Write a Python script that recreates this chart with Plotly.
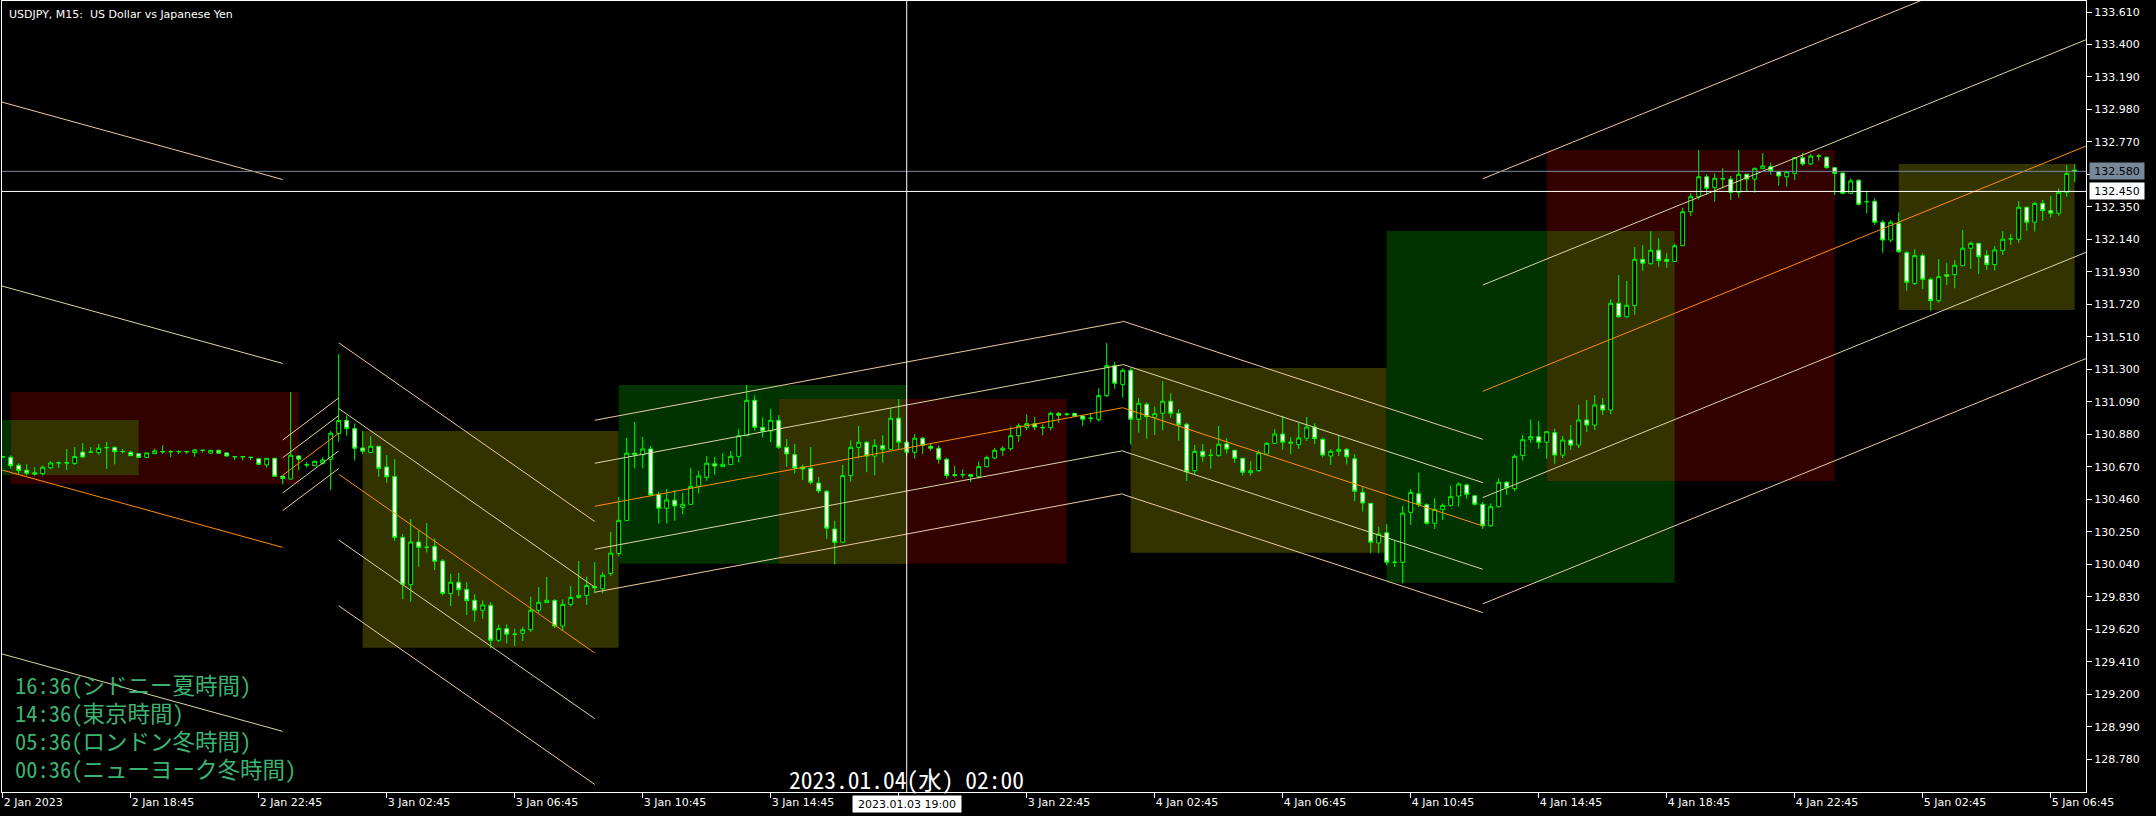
import plotly.graph_objects as go

# ---------------- data (USDJPY M15, bars from 2 Jan 2023 14:45) ----------------
opens = [
    130.735, 130.731, 130.680, 130.648, 130.631, 130.626, 130.664, 130.695, 130.696, 130.692,
    130.765, 130.765, 130.762, 130.792, 130.796, 130.768, 130.764, 130.755, 130.731, 130.755,
    130.769, 130.768, 130.768, 130.768, 130.762, 130.777, 130.758, 130.777, 130.760, 130.735,
    130.735, 130.731, 130.722, 130.682, 130.725, 130.610, 130.591, 130.740, 130.684, 130.677,
    130.693, 130.719, 130.885, 130.971, 130.918, 130.792, 130.762, 130.803, 130.669, 130.607,
    130.214, 129.908, 130.184, 130.150, 130.156, 130.061, 129.850, 129.924, 129.878, 129.807,
    129.743, 129.775, 129.549, 129.624, 129.588, 129.594, 129.617, 129.743, 129.792, 129.806,
    129.641, 129.781, 129.826, 129.839, 129.896, 129.882, 129.980, 130.110, 130.324, 130.758,
    130.749, 130.785, 130.492, 130.402, 130.454, 130.408, 130.428, 130.544, 130.602, 130.690,
    130.671, 130.684, 130.738, 130.871, 131.100, 130.925, 130.902, 130.971, 130.796, 130.749,
    130.669, 130.660, 130.565, 130.512, 130.268, 130.182, 130.613, 130.796, 130.829, 130.740,
    130.807, 130.783, 130.984, 130.829, 130.764, 130.855, 130.803, 130.790, 130.719, 130.619,
    130.619, 130.619, 130.606, 130.671, 130.727, 130.777, 130.787, 130.871, 130.925, 130.949,
    130.925, 130.923, 131.016, 131.010, 131.016, 130.999, 130.984, 130.977, 131.130, 131.324,
    131.203, 131.294, 130.977, 131.074, 130.990, 131.016, 131.094, 131.016, 130.945, 130.645,
    130.770, 130.744, 130.744, 130.818, 130.777, 130.725, 130.632, 130.645, 130.753, 130.822,
    130.882, 130.822, 130.813, 130.855, 130.927, 130.848, 130.740, 130.770, 130.783, 130.722,
    130.505, 130.434, 130.178, 130.244, 130.053, 130.053, 130.376, 130.496, 130.425, 130.305,
    130.395, 130.421, 130.481, 130.553, 130.483, 130.428, 130.289, 130.412, 130.570, 130.529,
    130.744, 130.848, 130.865, 130.829, 130.891, 130.746, 130.843, 130.811, 130.973, 130.940,
    131.070, 131.037, 131.727, 131.640, 131.712, 132.011, 131.983, 132.070, 132.011, 131.998,
    132.099, 132.319, 132.416, 132.545, 132.474, 132.532, 132.529, 132.445, 132.561, 132.530,
    132.597, 132.610, 132.578, 132.545, 132.567, 132.668, 132.628, 132.679, 132.671, 132.604,
    132.569, 132.438, 132.522, 132.384, 132.386, 132.251, 132.136, 132.244, 132.054, 131.856,
    132.035, 131.882, 131.744, 131.912, 131.912, 131.970, 132.083, 132.115, 132.037, 131.977,
    132.067, 132.143, 132.141, 132.348, 132.251, 132.373, 132.326, 132.309, 132.445, 132.588,
]
highs = [
    130.740, 130.745, 130.693, 130.686, 130.669, 130.680, 130.706, 130.704, 130.785, 130.798,
    130.824, 130.798, 130.818, 130.831, 130.803, 130.785, 130.774, 130.760, 130.760, 130.787,
    130.810, 130.779, 130.777, 130.774, 130.785, 130.777, 130.777, 130.779, 130.766, 130.737,
    130.737, 130.733, 130.725, 130.725, 130.729, 130.611, 131.154, 130.746, 130.698, 130.708,
    130.732, 130.902, 131.399, 131.003, 130.950, 130.900, 130.868, 130.803, 130.746, 130.720,
    130.236, 130.333, 130.257, 130.307, 130.206, 130.074, 129.979, 129.984, 129.924, 129.846,
    129.807, 129.794, 129.650, 129.652, 129.624, 129.637, 129.830, 129.893, 129.958, 129.816,
    129.814, 129.898, 130.061, 129.960, 130.053, 129.988, 130.249, 130.474, 130.858, 130.960,
    130.863, 130.805, 130.509, 130.527, 130.520, 130.501, 130.662, 130.643, 130.740, 130.734,
    130.758, 130.773, 130.914, 131.199, 131.132, 130.990, 131.044, 131.003, 130.850, 130.816,
    130.684, 130.798, 130.604, 130.520, 130.322, 130.682, 130.841, 130.934, 130.833, 130.848,
    130.874, 131.048, 131.108, 130.843, 130.882, 130.863, 130.820, 130.807, 130.729, 130.675,
    130.654, 130.624, 130.705, 130.742, 130.793, 130.803, 130.929, 130.951, 131.009, 130.994,
    130.945, 131.026, 131.024, 131.020, 131.018, 130.999, 131.018, 131.178, 131.470, 131.348,
    131.307, 131.307, 131.115, 131.087, 131.059, 131.223, 131.145, 131.042, 130.955, 130.811,
    130.818, 130.785, 130.934, 130.855, 130.777, 130.725, 130.706, 130.779, 130.829, 130.913,
    131.001, 130.861, 130.955, 130.992, 130.951, 130.858, 130.783, 130.876, 130.790, 130.751,
    130.538, 130.434, 130.283, 130.299, 130.193, 130.417, 130.527, 130.632, 130.434, 130.467,
    130.434, 130.548, 130.570, 130.561, 130.483, 130.443, 130.434, 130.596, 130.578, 130.751,
    130.876, 130.977, 130.966, 130.897, 130.916, 130.869, 130.940, 131.070, 131.102, 131.134,
    131.115, 131.753, 131.910, 131.871, 132.091, 132.102, 132.192, 132.147, 132.050, 132.112,
    132.345, 132.438, 132.718, 132.561, 132.567, 132.600, 132.550, 132.718, 132.561, 132.600,
    132.697, 132.636, 132.584, 132.584, 132.675, 132.700, 132.692, 132.692, 132.679, 132.604,
    132.574, 132.535, 132.529, 132.455, 132.406, 132.266, 132.266, 132.315, 132.065, 132.076,
    132.050, 131.893, 132.013, 131.989, 132.005, 132.201, 132.125, 132.115, 132.070, 132.097,
    132.194, 132.173, 132.388, 132.352, 132.382, 132.395, 132.422, 132.470, 132.621, 132.628,
]
lows = [
    130.727, 130.658, 130.616, 130.614, 130.613, 130.613, 130.656, 130.664, 130.650, 130.682,
    130.727, 130.763, 130.747, 130.656, 130.686, 130.757, 130.740, 130.730, 130.730, 130.753,
    130.753, 130.731, 130.751, 130.753, 130.735, 130.762, 130.758, 130.756, 130.735, 130.714,
    130.712, 130.714, 130.685, 130.664, 130.606, 130.556, 130.588, 130.646, 130.666, 130.675,
    130.684, 130.520, 130.832, 130.871, 130.711, 130.751, 130.762, 130.606, 130.567, 130.192,
    129.814, 129.798, 130.024, 130.117, 130.003, 129.839, 129.770, 129.835, 129.712, 129.669,
    129.688, 129.497, 129.536, 129.529, 129.512, 129.544, 129.601, 129.727, 129.792, 129.628,
    129.611, 129.766, 129.817, 129.777, 129.854, 129.852, 129.964, 130.092, 130.320, 130.660,
    130.660, 130.485, 130.305, 130.305, 130.322, 130.363, 130.423, 130.499, 130.580, 130.619,
    130.669, 130.682, 130.699, 130.869, 130.904, 130.861, 130.829, 130.785, 130.671, 130.626,
    130.585, 130.555, 130.499, 130.204, 130.040, 130.181, 130.574, 130.725, 130.635, 130.615,
    130.697, 130.782, 130.785, 130.740, 130.723, 130.753, 130.774, 130.690, 130.593, 130.602,
    130.598, 130.570, 130.593, 130.667, 130.719, 130.740, 130.774, 130.832, 130.908, 130.908,
    130.874, 130.906, 130.955, 130.997, 130.992, 130.934, 130.958, 130.962, 131.121, 131.175,
    131.117, 130.813, 130.891, 130.852, 130.876, 130.906, 130.988, 130.839, 130.578, 130.624,
    130.703, 130.658, 130.734, 130.755, 130.695, 130.613, 130.613, 130.638, 130.750, 130.821,
    130.781, 130.751, 130.787, 130.837, 130.816, 130.731, 130.682, 130.740, 130.686, 130.447,
    130.380, 130.111, 130.111, 130.033, 130.022, 129.917, 130.294, 130.412, 130.296, 130.268,
    130.326, 130.412, 130.412, 130.464, 130.419, 130.268, 130.283, 130.408, 130.488, 130.512,
    130.710, 130.826, 130.787, 130.723, 130.690, 130.727, 130.779, 130.792, 130.895, 130.908,
    131.005, 131.011, 131.634, 131.632, 131.653, 131.938, 131.977, 131.964, 131.957, 131.997,
    132.097, 132.291, 132.399, 132.429, 132.384, 132.470, 132.395, 132.410, 132.449, 132.442,
    132.595, 132.558, 132.487, 132.481, 132.524, 132.615, 132.621, 132.649, 132.597, 132.427,
    132.432, 132.437, 132.358, 132.309, 132.233, 132.054, 132.121, 132.054, 131.809, 131.845,
    131.819, 131.679, 131.731, 131.845, 131.824, 131.968, 131.949, 131.916, 131.942, 131.938,
    132.039, 132.104, 132.119, 132.196, 132.190, 132.259, 132.281, 132.293, 132.416, 132.511,
]
closes = [
    130.734, 130.677, 130.647, 130.629, 130.624, 130.667, 130.695, 130.696, 130.695, 130.737,
    130.734, 130.765, 130.790, 130.795, 130.768, 130.769, 130.742, 130.731, 130.760, 130.773,
    130.767, 130.768, 130.768, 130.768, 130.779, 130.777, 130.777, 130.758, 130.740, 130.735,
    130.735, 130.731, 130.686, 130.725, 130.609, 130.595, 130.745, 130.719, 130.682, 130.706,
    130.714, 130.887, 130.969, 130.918, 130.790, 130.771, 130.803, 130.660, 130.606, 130.214,
    129.911, 130.184, 130.150, 130.150, 130.060, 129.852, 129.924, 129.876, 129.805, 129.743,
    129.777, 129.549, 129.624, 129.588, 129.588, 129.617, 129.743, 129.794, 129.807, 129.641,
    129.781, 129.826, 129.839, 129.903, 129.887, 129.969, 130.112, 130.324, 130.758, 130.749,
    130.785, 130.488, 130.402, 130.456, 130.417, 130.428, 130.544, 130.611, 130.693, 130.675,
    130.686, 130.738, 130.871, 131.100, 130.925, 130.900, 130.971, 130.796, 130.753, 130.663,
    130.656, 130.570, 130.514, 130.273, 130.182, 130.613, 130.796, 130.829, 130.740, 130.809,
    130.783, 130.984, 130.829, 130.764, 130.855, 130.809, 130.790, 130.719, 130.613, 130.615,
    130.619, 130.609, 130.671, 130.731, 130.777, 130.790, 130.871, 130.936, 130.949, 130.927,
    130.923, 131.016, 131.003, 131.010, 130.997, 130.977, 130.984, 131.130, 131.324, 131.210,
    131.294, 130.977, 131.081, 130.994, 131.013, 131.094, 131.016, 130.942, 130.637, 130.770,
    130.738, 130.744, 130.816, 130.785, 130.725, 130.635, 130.645, 130.761, 130.822, 130.882,
    130.829, 130.829, 130.856, 130.927, 130.852, 130.746, 130.770, 130.783, 130.735, 130.512,
    130.436, 130.182, 130.236, 130.053, 130.053, 130.370, 130.505, 130.428, 130.305, 130.395,
    130.421, 130.477, 130.559, 130.492, 130.428, 130.289, 130.412, 130.570, 130.535, 130.738,
    130.845, 130.865, 130.829, 130.897, 130.746, 130.843, 130.811, 130.973, 130.940, 131.070,
    131.037, 131.727, 131.640, 131.714, 132.011, 131.986, 132.070, 132.003, 131.998, 132.099,
    132.319, 132.416, 132.545, 132.470, 132.535, 132.532, 132.445, 132.561, 132.530, 132.600,
    132.615, 132.584, 132.550, 132.578, 132.668, 132.628, 132.679, 132.679, 132.604, 132.567,
    132.438, 132.518, 132.367, 132.384, 132.251, 132.136, 132.251, 132.061, 131.863, 132.035,
    131.882, 131.744, 131.899, 131.902, 131.973, 132.083, 132.115, 132.028, 131.977, 132.072,
    132.141, 132.143, 132.348, 132.251, 132.373, 132.326, 132.309, 132.445, 132.567, 132.580,
]

# x-axis (time) labels, one every 16 bars (4 hours); the 3 Jan 18:45 slot is covered by the crosshair label
time_tick_bars = [0, 16, 32, 48, 64, 80, 96, 112, 128, 144, 160, 176, 192, 208, 224, 240, 256]
time_tick_labels = [
    "2 Jan 2023", "2 Jan 18:45", "2 Jan 22:45", "3 Jan 02:45", "3 Jan 06:45", "3 Jan 10:45",
    "3 Jan 14:45", "", "3 Jan 22:45", "4 Jan 02:45", "4 Jan 06:45", "4 Jan 10:45",
    "4 Jan 14:45", "4 Jan 18:45", "4 Jan 22:45", "5 Jan 02:45", "5 Jan 06:45",
]
price_ticks = [
    128.780, 128.990, 129.200, 129.410, 129.620, 129.830, 130.040, 130.250, 130.460, 130.670,
    130.880, 131.090, 131.300, 131.510, 131.720, 131.930, 132.140, 132.350, 132.560, 132.770,
    132.980, 133.190, 133.400, 133.610,
]

# session boxes (start bar, end bar, high, low, kind)
box_start = [-1, 1, 45, 77, 97, 141, 173, 193, 237]
box_end = [17, 37, 77, 113, 133, 173, 209, 229, 259]
box_high = [130.973, 131.154, 130.901, 131.199, 131.109, 131.309, 132.194, 132.718, 132.627]
box_low = [130.617, 130.559, 129.501, 130.044, 130.044, 130.115, 129.921, 130.578, 131.684]
box_kind = ["green", "red", "olive", "green", "red", "olive", "green", "red", "olive"]

# regression channels (start bar, end bar, mid price at start/end, deviation)
ch_start = [-3, 35, 42, 74, 140, 185]
ch_end = [35, 42, 74, 140, 185, 262]
ch_mid_start = [130.691, 130.615, 130.622, 130.415, 131.052, 131.158]
ch_mid_end = [130.149, 130.887, 129.467, 131.052, 130.288, 132.777]
ch_dev = [1.189, 0.114, 0.425, 0.278, 0.280, 0.687]
ch_multipliers = [2, 1, 0, -1, -2]

bid_price = 132.580
cross_bar = 113
cross_price = 132.450
cross_time_label = "2023.01.03 19:00"
cross_local_label = "2023.01.04(水) 02:00"
session_labels = ["16:36(シドニー夏時間)", "14:36(東京時間)", "05:36(ロンドン冬時間)", "00:36(ニューヨーク冬時間)"]
chart_title = "USDJPY, M15:\u00a0 US Dollar vs Japanese Yen"

# ---------------- figure ----------------
W, H = 2156, 816
ML, MR, MT, MB = 2, 70, 1, 24
plot_h = H - MT - MB

bars = list(range(len(opens)))
fig = go.Figure()

box_colors = {"green": "#003300", "red": "#330000", "olive": "#333300"}
shapes = []
for s, e, hi, lo, k in zip(box_start, box_end, box_high, box_low, box_kind):
    shapes.append(dict(type="rect", xref="x", yref="y", x0=s, x1=e, y0=lo, y1=hi,
                       fillcolor=box_colors[k], line=dict(width=0), layer="below"))
# overlapping green/red sessions blend to olive
for i, ki in enumerate(box_kind):
    if ki != "green":
        continue
    for j, kj in enumerate(box_kind):
        if kj != "red":
            continue
        x0 = max(box_start[i], box_start[j]); x1 = min(box_end[i], box_end[j])
        y0 = max(box_low[i], box_low[j]); y1 = min(box_high[i], box_high[j])
        if x1 > x0 and y1 > y0:
            shapes.append(dict(type="rect", xref="x", yref="y", x0=x0, x1=x1, y0=y0, y1=y1,
                               fillcolor=box_colors["olive"], line=dict(width=0), layer="below"))

line_colors = {2: "#E8CCA0", 1: "#DCD6A0", 0: "#FF8C00", -1: "#DCD6A0", -2: "#E8CCA0"}
for s, e, m0, m1, d in zip(ch_start, ch_end, ch_mid_start, ch_mid_end, ch_dev):
    for k in ch_multipliers:
        fig.add_trace(go.Scatter(x=[s, e], y=[m0 + k * d, m1 + k * d], mode="lines",
                                 line=dict(color=line_colors[k], width=1),
                                 hoverinfo="skip", showlegend=False))

fig.add_trace(go.Candlestick(
    x=bars, open=opens, high=highs, low=lows, close=closes,
    increasing=dict(line=dict(color="#00FF00", width=1), fillcolor="#000000"),
    decreasing=dict(line=dict(color="#00FF00", width=1), fillcolor="#FFFFFF"),
    whiskerwidth=0, showlegend=False, hoverinfo="skip",
))

# bid line and crosshair
shapes.append(dict(type="line", xref="paper", yref="y", x0=0, x1=1, y0=bid_price, y1=bid_price,
                   line=dict(color="#778899", width=1), layer="above"))
shapes.append(dict(type="line", xref="paper", yref="y", x0=0, x1=1, y0=cross_price, y1=cross_price,
                   line=dict(color="#FFFFFF", width=1), layer="above"))
shapes.append(dict(type="line", xref="x", yref="paper", x0=cross_bar, x1=cross_bar, y0=0, y1=1,
                   line=dict(color="#FFFFFF", width=1), layer="above"))

ann = []
ann.append(dict(text=chart_title, xref="paper", yref="paper", x=0, y=1, xanchor="left", yanchor="top",
                xshift=5, yshift=-5, showarrow=False,
                font=dict(family="DejaVu Sans", size=11, color="#FFFFFF")))
mono = "Noto Sans Mono CJK JP, Noto Sans CJK JP, DejaVu Sans Mono, monospace"
for n, t in enumerate(session_labels):
    ypx = 683.5 + 28.3 * n
    ann.append(dict(text=t, xref="paper", yref="paper", x=(13 - ML) / (W - ML - MR),
                    y=(MT + plot_h - ypx) / plot_h, xanchor="left", yanchor="middle",
                    showarrow=False, font=dict(family=mono, size=22.5, color="#3CB371")))
ann.append(dict(text=cross_local_label, xref="x", yref="paper", x=cross_bar,
                y=(MT + plot_h - 779) / plot_h, xanchor="center", yanchor="middle", showarrow=False,
                font=dict(family=mono, size=23.5, color="#FFFFFF")))
ann.append(dict(text=cross_time_label, xref="x", yref="paper", x=cross_bar, y=0, yanchor="top",
                xanchor="center", yshift=-3, showarrow=False, bgcolor="#FFFFFF", width=106, height=14,
                font=dict(family="DejaVu Sans", size=11, color="#000000")))
ann.append(dict(text=f"{bid_price:.3f}", xref="paper", yref="y", x=1, y=bid_price, xanchor="left",
                yanchor="middle", xshift=3, showarrow=False, bgcolor="#778899", width=52, height=14,
                font=dict(family="DejaVu Sans", size=11, color="#000000")))
ann.append(dict(text=f"{cross_price:.3f}", xref="paper", yref="y", x=1, y=cross_price, xanchor="left",
                yanchor="middle", xshift=3, showarrow=False, bgcolor="#FFFFFF", width=52, height=14,
                font=dict(family="DejaVu Sans", size=11, color="#000000")))

ypx_top = 133.610 + 11 / 154.7
fig.update_layout(
    width=W, height=H, margin=dict(l=ML, r=MR, t=MT, b=MB, pad=0),
    paper_bgcolor="#000000", plot_bgcolor="#000000", showlegend=False,
    shapes=shapes, annotations=ann,
    xaxis=dict(range=[-0.0875, 260.41], showgrid=False, zeroline=False,
               rangeslider=dict(visible=False), tickmode="array", tickvals=time_tick_bars,
               ticktext=time_tick_labels, ticks="outside", ticklen=5, tickcolor="#FFFFFF",
               showline=True, linecolor="#FFFFFF", linewidth=1, mirror=True,
               ticklabelposition="outside right",
               tickfont=dict(family="DejaVu Sans", size=11, color="#FFFFFF")),
    yaxis=dict(range=[ypx_top - plot_h / 154.7, ypx_top], side="right", showgrid=False,
               zeroline=False, tickmode="array", tickvals=price_ticks,
               ticktext=[f"{v:.3f}" for v in price_ticks], ticks="outside", ticklen=5,
               tickcolor="#FFFFFF", showline=True, linecolor="#FFFFFF", linewidth=1, mirror=True,
               tickfont=dict(family="DejaVu Sans", size=11, color="#FFFFFF")),
)

fig.write_html("out.html", config={"displayModeBar": False},
               post_script="document.body.style.margin='0';document.body.style.background='#000';")
